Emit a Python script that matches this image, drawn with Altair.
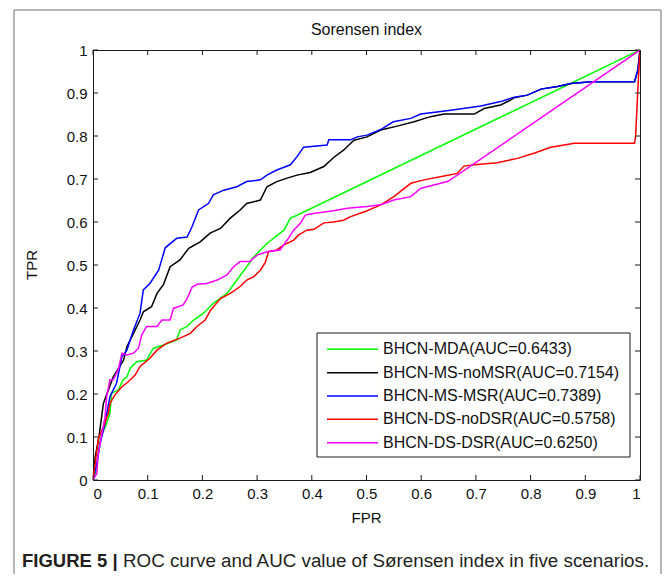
import altair as alt
import pandas as pd

# ---------------- data ----------------
series_names = [
    "BHCN-MDA(AUC=0.6433)",
    "BHCN-MS-noMSR(AUC=0.7154)",
    "BHCN-MS-MSR(AUC=0.7389)",
    "BHCN-DS-noDSR(AUC=0.5758)",
    "BHCN-DS-DSR(AUC=0.6250)",
]
series_colors = ["#00ff00", "#000000", "#0000ff", "#ff0000", "#ff00ff"]

mda_fpr = [0, 0.007, 0.010, 0.015, 0.025, 0.031, 0.034, 0.046, 0.055, 0.062,
           0.068, 0.080, 0.098, 0.110, 0.129, 0.153, 0.159, 0.172, 0.184, 0.202,
           0.220, 0.245, 0.263, 0.281, 0.294, 0.318, 0.349, 0.361, 0.372, 1.0]
mda_tpr = [0, 0.023, 0.070, 0.101, 0.132, 0.155, 0.202, 0.209, 0.233, 0.240,
           0.260, 0.275, 0.279, 0.306, 0.314, 0.326, 0.349, 0.357, 0.372, 0.388,
           0.411, 0.434, 0.465, 0.496, 0.519, 0.550, 0.581, 0.609, 0.615, 1.0]

nomsr_fpr = [0, 0.004, 0.011, 0.019, 0.028, 0.037, 0.056, 0.062, 0.074, 0.086,
             0.092, 0.107, 0.117, 0.129, 0.141, 0.159, 0.175, 0.196, 0.214, 0.233,
             0.251, 0.269, 0.281, 0.306, 0.318, 0.336, 0.355, 0.373, 0.397, 0.422,
             0.440, 0.458, 0.477, 0.501, 0.526, 0.556, 0.587, 0.617, 0.642, 0.697,
             0.715, 0.745, 0.764, 0.770, 0.794, 0.819, 0.849, 0.874, 0.910, 0.990,
             0.996, 1.0]
nomsr_tpr = [0, 0.054, 0.101, 0.178, 0.209, 0.240, 0.279, 0.310, 0.341, 0.372,
             0.391, 0.403, 0.434, 0.455, 0.496, 0.512, 0.539, 0.554, 0.574, 0.585,
             0.609, 0.628, 0.643, 0.651, 0.682, 0.694, 0.702, 0.709, 0.715, 0.729,
             0.750, 0.767, 0.790, 0.798, 0.814, 0.823, 0.833, 0.845, 0.851, 0.851,
             0.864, 0.872, 0.884, 0.889, 0.895, 0.909, 0.915, 0.922, 0.926, 0.926,
             0.953, 1.0]

msr_fpr = [0, 0.007, 0.013, 0.022, 0.031, 0.043, 0.053, 0.062, 0.074, 0.086,
           0.092, 0.104, 0.120, 0.132, 0.153, 0.172, 0.181, 0.193, 0.211, 0.220,
           0.239, 0.263, 0.281, 0.306, 0.318, 0.336, 0.361, 0.373, 0.385, 0.428,
           0.431, 0.471, 0.483, 0.501, 0.526, 0.549, 0.581, 0.599, 0.636, 0.654,
           0.709, 0.745, 0.770, 0.794, 0.819, 0.849, 0.874, 0.910, 0.990, 0.996,
           1.0]
msr_tpr = [0, 0.039, 0.085, 0.132, 0.194, 0.225, 0.287, 0.302, 0.349, 0.388,
           0.442, 0.457, 0.488, 0.540, 0.562, 0.565, 0.589, 0.628, 0.643, 0.663,
           0.674, 0.682, 0.694, 0.698, 0.709, 0.721, 0.733, 0.752, 0.774, 0.779,
           0.791, 0.791, 0.798, 0.802, 0.815, 0.833, 0.841, 0.851, 0.857, 0.860,
           0.870, 0.880, 0.890, 0.895, 0.909, 0.915, 0.922, 0.926, 0.926, 0.953,
           1.0]

nodsr_fpr = [0, 0.004, 0.010, 0.019, 0.028, 0.031, 0.040, 0.053, 0.065, 0.077,
             0.086, 0.104, 0.117, 0.135, 0.159, 0.178, 0.190, 0.205, 0.215, 0.233,
             0.251, 0.269, 0.281, 0.294, 0.306, 0.315, 0.321, 0.336, 0.349, 0.367,
             0.376, 0.391, 0.404, 0.422, 0.440, 0.458, 0.470, 0.501, 0.526, 0.550,
             0.581, 0.605, 0.642, 0.666, 0.678, 0.697, 0.739, 0.776, 0.806, 0.837,
             0.880, 0.990, 0.992, 0.996, 1.0]
nodsr_tpr = [0, 0.039, 0.097, 0.124, 0.155, 0.178, 0.198, 0.217, 0.229, 0.244,
             0.264, 0.283, 0.302, 0.318, 0.330, 0.341, 0.357, 0.372, 0.395, 0.422,
             0.434, 0.450, 0.465, 0.473, 0.488, 0.506, 0.531, 0.535, 0.547, 0.558,
             0.570, 0.581, 0.583, 0.598, 0.600, 0.604, 0.612, 0.626, 0.640, 0.659,
             0.690, 0.698, 0.707, 0.713, 0.730, 0.733, 0.738, 0.748, 0.760, 0.774,
             0.783, 0.783, 0.800, 0.907, 1.0]

dsr_fpr = [0, 0.007, 0.009, 0.013, 0.022, 0.025, 0.031, 0.037, 0.046, 0.053,
           0.062, 0.074, 0.083, 0.089, 0.098, 0.117, 0.126, 0.141, 0.147, 0.165,
           0.172, 0.181, 0.190, 0.208, 0.227, 0.245, 0.257, 0.269, 0.287, 0.300,
           0.318, 0.342, 0.355, 0.367, 0.379, 0.388, 0.403, 0.440, 0.465, 0.501,
           0.526, 0.550, 0.581, 0.599, 0.623, 0.648, 0.666, 1.0]
dsr_tpr = [0, 0.015, 0.054, 0.085, 0.147, 0.194, 0.233, 0.233, 0.256, 0.295,
           0.291, 0.295, 0.306, 0.337, 0.357, 0.357, 0.372, 0.372, 0.399, 0.407,
           0.422, 0.448, 0.455, 0.457, 0.465, 0.477, 0.496, 0.508, 0.508, 0.523,
           0.531, 0.535, 0.558, 0.581, 0.597, 0.616, 0.620, 0.626, 0.632, 0.636,
           0.640, 0.651, 0.659, 0.678, 0.686, 0.694, 0.709, 1.0]

x_ticks = [0, 0.1, 0.2, 0.3, 0.4, 0.5, 0.6, 0.7, 0.8, 0.9, 1.0]
y_ticks = [0, 0.1, 0.2, 0.3, 0.4, 0.5, 0.6, 0.7, 0.8, 0.9, 1.0]

chart_title = "Sorensen index"
x_title = "FPR"
y_title = "TPR"
caption_bold = "FIGURE 5 |"
caption_text = "ROC curve and AUC value of Sørensen index in five scenarios."

# ---------------- layout / style ----------------
W, H = 547, 430
FONT = "Liberation Sans, Arial, sans-serif"
CAP_FONT = "Liberation Sans, Arial, sans-serif"
AX = "#1a1a1a"

all_x = [mda_fpr, nomsr_fpr, msr_fpr, nodsr_fpr, dsr_fpr]
all_y = [mda_tpr, nomsr_tpr, msr_tpr, nodsr_tpr, dsr_tpr]
rows = []
for name, xs, ys in zip(series_names, all_x, all_y):
    for i, (a, b) in enumerate(zip(xs, ys)):
        rows.append({"series": name, "i": i, "fpr": a, "tpr": b})
df = pd.DataFrame(rows)

xscale = alt.Scale(domain=[0, 1], nice=False, zero=False)
yscale = alt.Scale(domain=[0, 1], nice=False, zero=False)
cscale = alt.Scale(domain=series_names, range=series_colors)

xaxis = alt.Axis(values=x_ticks, format=".1~f", ticks=False, domain=False, grid=False,
                 labelFont=FONT, labelFontSize=15, labelColor="#111", labelPadding=6,
                 title=None)
yaxis = alt.Axis(values=y_ticks, format=".1~f", ticks=False, domain=False, grid=False,
                 labelFont=FONT, labelFontSize=15, labelColor="#111", labelPadding=6,
                 title=None)

layers = []
for name in series_names:
    layers.append(
        alt.Chart(df).transform_filter(alt.datum.series == name)
        .mark_line(strokeWidth=1.5, clip=True)
        .encode(
            x=alt.X("fpr:Q", scale=xscale, axis=xaxis),
            y=alt.Y("tpr:Q", scale=yscale, axis=yaxis),
            color=alt.Color("series:N", scale=cscale, legend=None),
            order=alt.Order("i:Q"),
        )
    )

xt = pd.DataFrame({"t": x_ticks})
yt = pd.DataFrame({"t": y_ticks})
tick_len = 5
layers += [
    alt.Chart(xt).mark_rule(color=AX, strokeWidth=1).encode(
        x=alt.X("t:Q", scale=xscale, axis=xaxis), y=alt.value(H), y2=alt.value(H - tick_len)),
    alt.Chart(xt).mark_rule(color=AX, strokeWidth=1).encode(
        x=alt.X("t:Q", scale=xscale, axis=xaxis), y=alt.value(0), y2=alt.value(tick_len)),
    alt.Chart(yt).mark_rule(color=AX, strokeWidth=1).encode(
        y=alt.Y("t:Q", scale=yscale, axis=yaxis), x=alt.value(0), x2=alt.value(tick_len)),
    alt.Chart(yt).mark_rule(color=AX, strokeWidth=1).encode(
        y=alt.Y("t:Q", scale=yscale, axis=yaxis), x=alt.value(W), x2=alt.value(W - tick_len)),
]

# legend (box inside the plot, lower right)
one = pd.DataFrame({"a": [0]})
ldf = pd.DataFrame({"series": series_names, "row": list(range(len(series_names)))})
layers.append(
    alt.Chart(one).mark_rect(fill="white", stroke=AX, strokeWidth=1).encode(
        x=alt.value(224), x2=alt.value(537), y=alt.value(283), y2=alt.value(407))
)
leg = alt.Chart(ldf).transform_calculate(ly="0.304 - datum.row * 0.0543")
layers.append(
    leg.mark_rule(strokeWidth=1.5).encode(
        x=alt.value(234), x2=alt.value(285),
        y=alt.Y("ly:Q", scale=yscale, axis=yaxis),
        color=alt.Color("series:N", scale=cscale, legend=None))
)
layers.append(
    leg.mark_text(align="left", baseline="middle", font=FONT, fontSize=16, color="#111").encode(
        x=alt.value(290), y=alt.Y("ly:Q", scale=yscale, axis=yaxis), text="series:N")
)

# titles
layers.append(alt.Chart(one).mark_text(text=chart_title, font=FONT, fontSize=16, color="#111",
                                       align="center", baseline="middle")
              .encode(x=alt.value(W / 2), y=alt.value(-20)))
layers.append(alt.Chart(one).mark_text(text=x_title, font=FONT, fontSize=15, color="#111",
                                       align="center", baseline="middle")
              .encode(x=alt.value(W / 2), y=alt.value(38 + H)))
layers.append(alt.Chart(one).mark_text(text=y_title, font=FONT, fontSize=15, color="#111",
                                       align="center", baseline="middle", angle=270)
              .encode(x=alt.value(-61), y=alt.value(215)))

# caption
layers.append(alt.Chart(one).mark_text(text=caption_bold, font=CAP_FONT, fontSize=18.5,
                                       fontWeight="bold", color="#231f20",
                                       align="left", baseline="middle")
              .encode(x=alt.value(-71), y=alt.value(511)))
layers.append(alt.Chart(one).mark_text(text=caption_text, font=CAP_FONT, fontSize=18.8,
                                       color="#231f20", align="left", baseline="middle")
              .encode(x=alt.value(30), y=alt.value(511)))

# outer frame (figure box)
BOX = "#6e6e6e"
layers.append(alt.Chart(one).mark_rule(color=BOX, strokeWidth=1).encode(
    x=alt.value(-79), y=alt.value(-40), y2=alt.value(530)))
layers.append(alt.Chart(one).mark_rule(color=BOX, strokeWidth=1).encode(
    x=alt.value(568), y=alt.value(-40), y2=alt.value(530)))
layers.append(alt.Chart(one).mark_rule(color=BOX, strokeWidth=1).encode(
    x=alt.value(-79), x2=alt.value(568), y=alt.value(-40)))

chart = alt.layer(*layers).properties(
    width=W, height=H,
    padding={"left": 85, "top": 42, "right": 22, "bottom": 94},
    autosize=alt.AutoSizeParams(type="none"),
    background="white",
).configure_view(stroke=AX, strokeWidth=1)

chart.save("out.html", embed_options={"renderer": "svg", "actions": False})
